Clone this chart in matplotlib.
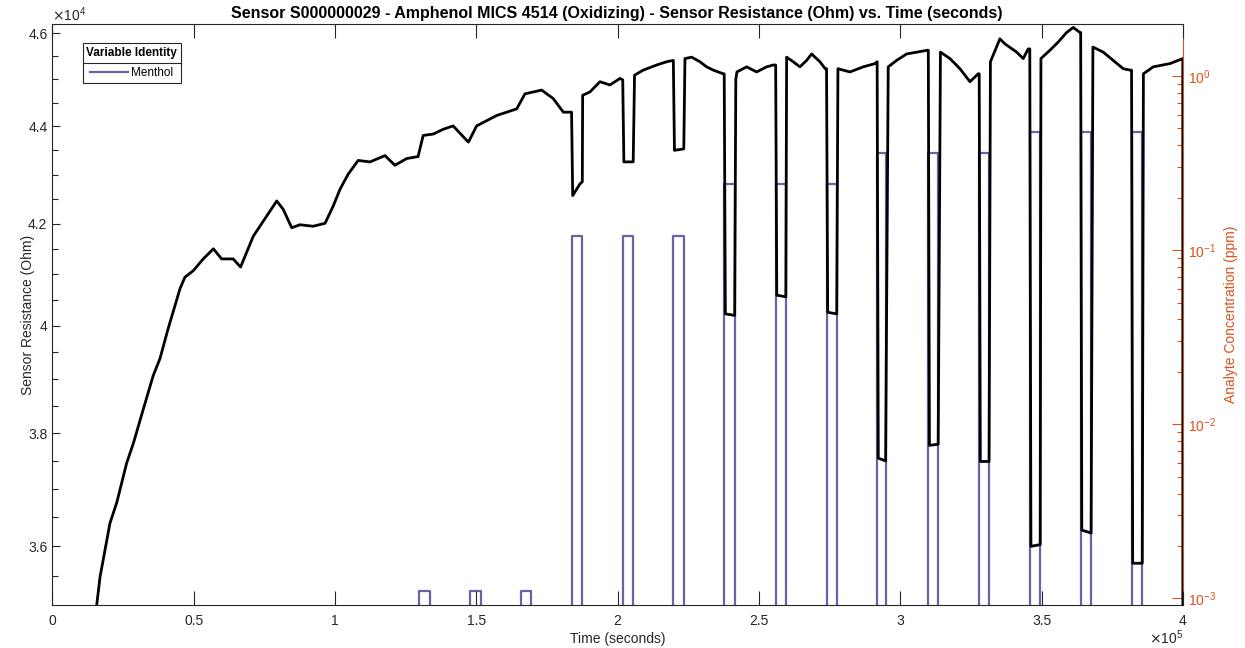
import numpy as np
import matplotlib
matplotlib.use("Agg")
import matplotlib.pyplot as plt
from matplotlib.ticker import FixedLocator, FuncFormatter, NullFormatter, LogLocator
from matplotlib.lines import Line2D

plt.rcParams["font.family"] = ["Liberation Sans", "DejaVu Sans"]

# ---- sensor resistance trace (time in s, resistance in Ohm) ----
time_s = [
    15700, 16900, 20400, 22800, 26300, 28700, 32200, 35700, 38100, 41000,
    45200, 46900, 49900, 53400, 57000, 59900, 64000, 66600, 71100, 75800,
    79400, 81700, 84700, 87600, 92300, 96500, 99400, 101800, 104700, 108200,
    112400, 117700, 121200, 125400, 129400, 131200, 134800, 138300, 141800, 147200,
    150100, 157200, 164300, 167200, 173100, 177200, 180800, 183700,
    184100, 186700, 187500, 187620, 190200, 193740, 197280, 200820, 201800,
    202200, 205500, 205980, 209060, 213800, 217340, 219700,
    220100, 223400, 223810, 226180, 229110, 231480, 233820, 237350, 237700,
    238100, 241400, 241800, 242200, 245630, 249170, 252700,
    255040, 255900,
    256300, 259500, 259780, 262120, 264480, 266860, 268620, 271560, 273430, 273900,
    274300, 277500, 277930, 282170, 286880, 291010, 291800,
    292200, 294800, 295720, 298690, 302230, 305770, 309510, 309900,
    310300, 313400, 314190, 317550, 321090, 324630, 327560, 327900,
    328300, 331400, 331870, 335230, 337000, 341140, 343480, 345240, 345800,
    346200, 349500, 349740, 352920, 355860, 358830, 361170, 363540, 363800,
    364200, 367500, 368130, 371780, 375310, 378850, 381220, 381800,
    382200, 385600, 385990, 389460, 395370, 399920, 400000,
]
resistance_ohm = [
    35000, 35480, 36400, 36760, 37460, 37820, 38440, 39060, 39380, 39950,
    40720, 40940, 41070, 41300, 41500, 41300, 41300, 41140, 41750, 42150,
    42460, 42290, 41920, 41980, 41950, 42010, 42360, 42700, 43010, 43290,
    43260, 43390, 43190, 43330, 43370, 43810, 43840, 43940, 44010, 43670,
    44010, 44230, 44370, 44690, 44770, 44590, 44300, 44300,
    42570, 42810, 42850, 44660, 44730, 44950, 44880, 45020, 44990,
    43260, 43260, 45090, 45200, 45310, 45380, 45410,
    43500, 43530, 45450, 45480, 45380, 45270, 45200, 45120, 45120,
    40230, 40200, 45000, 45160, 45270, 45160, 45270,
    45310, 45310,
    40590, 40560, 45480, 45380, 45270, 45410, 45550, 45380, 45230, 45230,
    40260, 40230, 45230, 45160, 45270, 45340, 45380,
    37550, 37500, 45270, 45410, 45550, 45590, 45630, 45630,
    37780, 37800, 45590, 45450, 45230, 44950, 45120, 45120,
    37490, 37490, 45380, 45880, 45770, 45590, 45450, 45660, 45660,
    36000, 36030, 45450, 45630, 45810, 46020, 46130, 46020, 46020,
    36280, 36230, 45700, 45590, 45410, 45230, 45200, 45200,
    35710, 35710, 45120, 45270, 45340, 45450, 20000,
]

# ---- menthol exposure pulses ----
pulse_start_s = [129800, 147800, 165700, 183700, 201800, 219700, 237700, 255900,
                 273900, 291800, 309900, 327900, 345800, 363800, 381800]
pulse_end_s = [133500, 151500, 169400, 187500, 205500, 223400, 241400, 259500,
               277500, 294800, 313400, 331400, 349500, 367500, 385600]
pulse_ppm = [0.0011, 0.0011, 0.0011, 0.12, 0.12, 0.12, 0.24, 0.24,
             0.24, 0.36, 0.36, 0.36, 0.48, 0.48, 0.48]
baseline_ppm = 1e-4

# x tick labels (scaled by 1e5)
x_ticks = [0, 50000, 100000, 150000, 200000, 250000, 300000, 350000, 400000]
y_ticks = [36000, 38000, 40000, 42000, 44000, 46000]

ORANGE = "#D95319"
PURPLE = "#6A62A4"
AXGRAY = "#262626"

fig = plt.figure(figsize=(12.45, 6.48), dpi=100)
ax1 = fig.add_axes([0.042, 0.0659, 0.9082, 0.8966])

ax1.plot(time_s, resistance_ohm, color="black", lw=2.0, zorder=2)
ax1.set_yscale("log")
ax1.set_ylim(35000, 46200)
ax1.set_xlim(0, 400000)
ax1.yaxis.set_major_locator(FixedLocator(y_ticks))
ax1.yaxis.set_major_formatter(FuncFormatter(lambda v, p: f"{v/1e4:g}"))
minor_vals = [v for v in range(35500, 46001, 500) if v not in y_ticks]
ax1.yaxis.set_minor_locator(FixedLocator(minor_vals))
ax1.yaxis.set_minor_formatter(NullFormatter())
ax1.xaxis.set_major_locator(FixedLocator(x_ticks))
ax1.xaxis.set_major_formatter(FuncFormatter(lambda v, p: f"{v/1e5:g}"))
ax1.tick_params(axis="x", which="major", direction="in", length=10, width=0.8,
                top=True, colors=AXGRAY, labelsize=10, pad=6)
ax1.tick_params(axis="y", which="major", direction="in", length=6, width=0.8,
                right=False, colors=AXGRAY, labelsize=10)
ax1.tick_params(axis="y", which="minor", direction="in", length=4, width=0.8,
                right=False, colors=AXGRAY)
for s in ["left", "top", "bottom"]:
    ax1.spines[s].set_color(AXGRAY)
    ax1.spines[s].set_linewidth(0.8)
ax1.spines["right"].set_visible(False)
ax1.set_xlabel("Time (seconds)", fontsize=10, color=AXGRAY, labelpad=3)
ax1.set_ylabel("Sensor Resistance (Ohm)", fontsize=10, color=AXGRAY, labelpad=-5)

# concentration step trace
cx, cy = [0], [baseline_ppm]
for s0, s1, lvl in zip(pulse_start_s, pulse_end_s, pulse_ppm):
    cx += [s0, s0, s1, s1]
    cy += [baseline_ppm, lvl, lvl, baseline_ppm]
cx.append(400000)
cy.append(baseline_ppm)

ax2 = ax1.twinx()
ax2.plot(cx, cy, color=PURPLE, lw=1.6, label="Menthol", zorder=3)
ax2.set_yscale("log")
ax2.set_ylim(10 ** -3.04, 10 ** 0.297)
ax2.yaxis.set_major_locator(LogLocator(base=10, numticks=10))
ax2.yaxis.set_minor_locator(LogLocator(base=10, subs=np.arange(2, 10), numticks=20))
ax2.yaxis.set_minor_formatter(NullFormatter())
ax2.tick_params(axis="y", which="major", direction="in", length=8, width=0.8,
                colors=ORANGE, labelsize=10)
ax2.tick_params(axis="y", which="minor", direction="in", length=4, width=0.8,
                colors=ORANGE)
for s in ["left", "top", "bottom"]:
    ax2.spines[s].set_visible(False)
ax2.spines["right"].set_color(ORANGE)
ax2.spines["right"].set_linewidth(0.8)
ax2.set_ylabel("Analyte Concentration (ppm)", fontsize=10, color=ORANGE,
               rotation=90, labelpad=6)
ax1.set_zorder(ax2.get_zorder() + 1)
ax1.patch.set_visible(False)

fig.text(0.4955, 0.979, "Sensor S000000029 - Amphenol MICS 4514 (Oxidizing) - "
         "Sensor Resistance (Ohm) vs. Time (seconds)",
         ha="center", va="center", fontsize=11.5, fontweight="bold", color="black")
fig.text(52 / 1245, 1 - 15 / 648, r"$\times\mathdefault{10^{4}}$", ha="left",
         va="center", fontsize=10, color=AXGRAY)
fig.text(1183 / 1245, 1 - 638 / 648, r"$\times\mathdefault{10^{5}}$", ha="right",
         va="center", fontsize=10, color=AXGRAY)

leg = ax1.legend(handles=[Line2D([], [], color=PURPLE, lw=1.6, label="Menthol")],
                 title="Variable Identity", loc="upper left",
                 bbox_to_anchor=(0.0271, 0.967), borderaxespad=0, fancybox=False,
                 edgecolor=AXGRAY, framealpha=1, fontsize=8.5, title_fontsize=8.5,
                 handlelength=3.2, handletextpad=0.3, borderpad=0.3,
                 labelspacing=0.3)
leg.get_title().set_fontweight("bold")
leg.get_frame().set_linewidth(0.8)
leg._legend_box.sep = 6
leg._legend_box.align = "center"

fig.canvas.draw()
renderer = fig.canvas.get_renderer()
fb = leg.get_frame().get_window_extent(renderer)
tb = leg.get_title().get_window_extent(renderer)
eb = leg.get_texts()[0].get_window_extent(renderer)
ysep = 0.5 * (tb.y0 + eb.y1)
fig.add_artist(Line2D([fb.x0 / fig.bbox.width, fb.x1 / fig.bbox.width],
                      [ysep / fig.bbox.height, ysep / fig.bbox.height],
                      transform=fig.transFigure, color=AXGRAY, lw=0.8, zorder=10))

fig.savefig("out.png", dpi=100)
